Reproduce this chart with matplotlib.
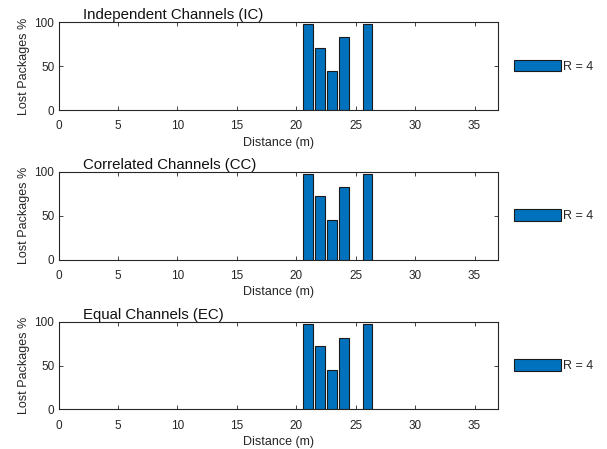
import matplotlib.pyplot as plt
from matplotlib.ticker import MultipleLocator

distance = [21, 22, 23, 24, 26]
lost_ic = [98, 71, 44, 83, 98]
lost_cc = [98, 72, 45, 83, 98]
lost_ec = [98, 72, 45, 82, 98]
titles = ["Independent Channels (IC)", "Correlated Channels (CC)", "Equal Channels (EC)"]
legend_label = "R = 4"

dark = "#262626"
plt.rcParams["font.family"] = ["Liberation Sans", "DejaVu Sans"]

fig = plt.figure(figsize=(6.07, 4.49), dpi=100)
bottoms = [0.755, 0.422, 0.088]

for bottom, title, values in zip(bottoms, titles, [lost_ic, lost_cc, lost_ec]):
    ax = fig.add_axes([0.0964, bottom, 0.7245, 0.195])
    ax.bar(distance, values, width=0.8, color="#0072BD", edgecolor="#1a1a1a",
           linewidth=0.8, label=legend_label)
    ax.set_xlim(0, 37)
    ax.set_ylim(0, 100)
    ax.xaxis.set_major_locator(MultipleLocator(5))
    ax.yaxis.set_major_locator(MultipleLocator(50))
    ax.tick_params(direction="in", length=3, width=0.6, top=True, right=True,
                   labelsize=8.5, colors=dark, labelcolor=dark)
    ax.tick_params(axis="x", pad=7.5)
    ax.tick_params(axis="y", pad=3)
    for sp in ax.spines.values():
        sp.set_color(dark)
        sp.set_linewidth(0.8)
    ax.set_xlabel("Distance (m)", fontsize=9, color=dark, labelpad=3)
    ax.set_ylabel("Lost Packages %", fontsize=9, color=dark, labelpad=3)
    ax.text(0.056, 1.0, title, transform=ax.transAxes, ha="left", va="bottom",
            fontsize=10.8, color="#111111")
    ax.legend(loc="center left", bbox_to_anchor=(1.0357, 0.5), frameon=False,
              fontsize=9, handlelength=3.76, handleheight=1.04, handletextpad=0.15,
              borderpad=0, borderaxespad=0, labelcolor=dark)

fig.savefig("out.png", dpi=100)
